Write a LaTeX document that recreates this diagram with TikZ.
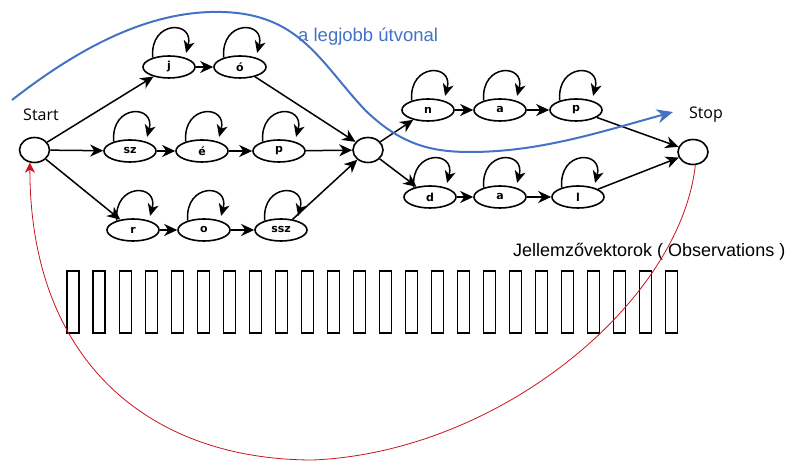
\documentclass[tikz,border=0pt]{standalone}
\usepackage{fontspec}
\setmainfont{Liberation Sans}
\newfontfamily\opensans{Open Sans}
\newfontfamily\lblfont{DejaVu Sans}
\usetikzlibrary{arrows.meta,shapes.geometric}
\definecolor{pathblue}{RGB}{68,114,196}
\definecolor{pathred}{RGB}{200,20,30}
\tikzset{
  st/.style={ellipse, draw, line width=1.6pt, minimum width=52pt, minimum height=22pt, inner sep=0pt,
    font=\lblfont\bfseries\fontsize{11}{12}\selectfont},
  circ/.style={ellipse, draw, line width=1.6pt, minimum width=30pt, minimum height=25pt, inner sep=0pt},
  edge/.style={line width=1.5pt, -{Stealth[length=13pt,width=12pt,inset=4pt]}},
  lp/.style={line width=1.5pt, -{Stealth[length=12pt,width=11pt,inset=3.5pt]}},
  obs/.style={draw, line width=1.1pt, minimum width=12pt, minimum height=62pt, inner sep=0pt},
  lbl/.style={font=\opensans\fontsize{16}{18}\selectfont, inner sep=0pt},
  bestpath/.style={draw=pathblue, line width=2pt, -{Stealth[length=16pt,width=14pt,inset=5pt]}},
  backpath/.style={draw=pathred, line width=0.8pt, -{Stealth[length=10pt,width=10pt,inset=3pt]}},
}
\newcommand\myloop[1]{\draw[lp] (#1.150) to[out=95,in=75,out distance=38pt,in distance=34pt] ([yshift=5pt]#1.28);}
\begin{document}
\begin{tikzpicture}[x=1pt,y=1pt]
\useasboundingbox (0,0) rectangle (792,462);
% states
\node[circ] (start) at (34.5,312) {};
\node[st] (j) at (169,395) {j};
\node[st] (oo) at (240,395) {ó};
\node[st] (sz) at (130,311) {sz};
\node[st] (ee) at (202,311) {é};
\node[st] (p1) at (279,311) {p};
\node[st] (r) at (133,232) {r};
\node[st] (o) at (204,232) {o};
\node[st] (ssz) at (281,232) {ssz};
\node[circ] (mid) at (368,312) {};
\node[st] (n) at (428,352) {n};
\node[st] (a1) at (500,352) {a};
\node[st] (p2) at (576,352) {p};
\node[st] (d) at (430,265) {d};
\node[st] (a2) at (500,265) {a};
\node[st] (l) at (578,265) {l};
\node[circ] (stop) at (693,310) {};
% labels
\node[lbl] (startlbl) at (41,347) {Start};
\node[lbl] (stoplbl) at (706,347) {Stop};
\node[anchor=west, inner sep=0pt, text=pathblue, font=\fontsize{18.5}{20}\selectfont] (best) at (298,425) {a legjobb útvonal};
\node[anchor=west, inner sep=0pt, font=\fontsize{18}{20}\selectfont] (obslbl) at (513,210) {Jellemzővektorok ( Observations )};
% observation vectors
\foreach \i in {0,...,23} { \node[obs] (ob\i) at ({73+26.04*\i},160) {}; }
% self loops
\foreach \s in {j,oo,sz,ee,p1,r,o,ssz,n,a1,p2,d,a2,l} { \myloop{\s} }
% transitions
\draw[edge] (start) -- (j);
\draw[edge] (start) -- (sz);
\draw[edge] (start) -- (r);
\draw[edge] (j) -- (oo);
\draw[edge] (sz) -- (ee);
\draw[edge] (ee) -- (p1);
\draw[edge] (r) -- (o);
\draw[edge] (o) -- (ssz);
\draw[edge] (oo) -- (mid);
\draw[edge] (p1) -- (mid);
\draw[edge] (ssz) -- (mid);
\draw[edge] (mid) -- (n);
\draw[edge] (mid) -- (d);
\draw[edge] (n) -- (a1);
\draw[edge] (a1) -- (p2);
\draw[edge] (d) -- (a2);
\draw[edge] (a2) -- (l);
\draw[edge] (p2) -- (stop);
\draw[edge] (l) -- (stop);
% best path
\coordinate (b0) at (12,362);
\coordinate (bpeak) at (222,450);
\coordinate (bdip) at (470,310);
\coordinate (b1) at (673,350);
\draw[bestpath] (b0) .. controls (80,415) and (150,452) .. (bpeak)
  .. controls (300,448) and (320,400) .. (365,352)
  .. controls (400,318) and (430,310) .. (bdip)
  .. controls (540,310) and (600,330) .. (b1);
% back path
\coordinate (redlow) at (313,2);
\draw[backpath] (stop.-80) .. controls (680,160) and (500,10) .. (redlow) .. controls (150,2) and (30,100) .. (start.-110);
\end{tikzpicture}
\end{document}
